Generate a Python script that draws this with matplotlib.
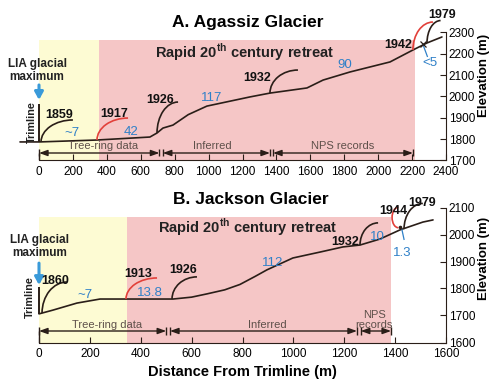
import numpy as np
import matplotlib
matplotlib.use("Agg")
import matplotlib.pyplot as plt
from matplotlib.patches import Arc

plt.rcParams['font.family'] = ['Liberation Sans', 'DejaVu Sans']
plt.rcParams['mathtext.fontset'] = 'custom'
plt.rcParams['mathtext.rm'] = 'Liberation Sans'
plt.rcParams['mathtext.bf'] = 'Liberation Sans:bold'

# ---------------- Data: A. Agassiz Glacier ----------------
a_dist = [-112, 0, 342, 654, 696, 731, 790, 880, 990, 1244, 1362, 1580, 1675, 1834, 2070, 2205, 2288, 2376]
a_elev = [1787, 1787, 1796, 1810, 1829, 1852, 1866, 1915, 1955, 1998, 2016, 2040, 2077, 2115, 2162, 2218, 2251, 2279]
a_years = ['1859', '1917', '1926', '1932', '1942', '1979']
a_mor_x = [12, 342, 696, 1362, 2205, 2288]
a_mor_y = [1787, 1796, 1829, 2016, 2218, 2251]
a_mor_w = [188, 183, 124, 165, 118, 80]
a_mor_h = [103, 103, 145, 108, 131, 105]
a_mor_red = [False, True, False, False, True, False]
a_rates = ['~7', '42', '117', '90', '<5']
a_sources = ['Tree-ring data', 'Inferred', 'NPS records']
a_src_start = [0, 730, 1380]
a_src_end = [710, 1362, 2205]
a_shade = [0, 354, 2217]
a_shade_top = 2265
a_trim_top = 1965

# ---------------- Data: B. Jackson Glacier ----------------
b_dist = [0, 55, 149, 240, 346, 527, 600, 660, 730, 790, 850, 896, 998, 1105, 1195, 1262, 1340, 1419, 1509, 1549]
b_elev = [1706, 1720, 1746, 1761, 1761, 1761, 1768, 1780, 1795, 1815, 1845, 1869, 1913, 1935, 1954, 1961, 1983, 2017, 2046, 2054]
b_years = ['1860', '1913', '1926', '1932', '1944', '1979']
b_mor_x = [12, 342, 523, 1262, 1415, 1435]
b_mor_y = [1709, 1761, 1761, 1961, 2020, 2020]
b_mor_w = [98, 122, 98, 71, 0, 74]
b_mor_h = [115, 78, 82, 82, 0, 95]
b_mor_red = [False, True, False, False, True, False]
b_rates = ['~7', '13.8', '112', '10', '1.3']
b_sources = ['Tree-ring data', 'Inferred', 'NPS\nrecords']
b_src_start = [0, 515, 1265]
b_src_end = [500, 1250, 1384]
b_shade = [0, 345, 1384]
b_shade_top = 2066
b_trim_top = 1806

# ---------------- Layout (label placement) ----------------
a_year_pos = [(118, 1913), (442, 1918), (713, 1984), (1285, 2087), (2117, 2241), (2376, 2382)]
a_rate_pos = [(192, 1827), (542, 1834), (1020, 1993), (1804, 2148), (2305, 2157)]
a_src_lx = [377, 1020, 1793]
b_year_pos = [(63, 1828), (389, 1854), (566, 1869), (1203, 1972), (1392, 2087), (1505, 2117)]
b_rate_pos = [(181, 1776), (436, 1783), (920, 1894), (1329, 1991), (1427, 1931)]
b_src_lx = [267, 896, 1318]

W, H = 492, 381
fig = plt.figure(figsize=(W / 100, H / 100), dpi=100)

def rect(px_left, px_right, py_bottom, py_top):
    return [px_left / W, 1 - py_bottom / H, (px_right - px_left) / W, (py_bottom - py_top) / H]

# top: x 0 at px39, 2400 at px446 ; y 1700 at py160.5, 2300 at py32.5
sx_a = (446 - 39) / 2400
sy_a = (160.5 - 32.5) / 600
ax_a = fig.add_axes(rect(10, 446, 160.5, 160.5 - 720 * sy_a))
ax_a.set_xlim(-(39 - 10) / sx_a, 2400)
ax_a.set_ylim(1700, 2420)

sx_b = (446 - 39) / 1600
sy_b = (342.5 - 207.5) / 500
ax_b = fig.add_axes(rect(10, 446, 342.5, 342.5 - 600 * sy_b))
ax_b.set_xlim(-(39 - 10) / sx_b, 1600)
ax_b.set_ylim(1600, 2200)

YEL = '#fdfbd3'
PINK = '#f5c6c6'
LINE = '#2a1e18'
RED = '#e2403a'
BLUE = '#2f80c8'
SRC = '#5e504a'

def draw_panel(ax, dist, elev, years, mx, my, mw, mh, mred, ypos, rates, rpos,
               sources, s0, s1, slx, shade, shade_top, ymin, ymax_tick, xmax,
               arrow_y, bar_h, src_ly, trim_top):
    ax.set_facecolor('none')
    ax.fill_between([shade[0], shade[1]], ymin, shade_top, color=YEL, lw=0, zorder=0)
    ax.fill_between([shade[1], shade[2]], ymin, shade_top, color=PINK, lw=0, zorder=0)
    ax.plot(dist, elev, color=LINE, lw=1.2, zorder=3, clip_on=False, solid_capstyle='round',
            solid_joinstyle='round')
    for x0, y0, w, h, red in zip(mx, my, mw, mh, mred):
        c = RED if red else LINE
        if w > 0:
            arc = Arc((x0 + w, y0), 2 * w, 2 * h, theta1=90, theta2=180, color=c, lw=1.2, zorder=3)
            ax.add_patch(arc)
    for t, (x, y) in zip(years, ypos):
        ax.text(x, y, t, fontsize=9, fontweight='bold', ha='center', va='center', color='#111111', zorder=4)
    for t, (x, y) in zip(rates, rpos):
        ax.text(x, y, t, fontsize=9.5, ha='center', va='center', color=BLUE, zorder=4)
    for a, b_, lx, lab in zip(s0, s1, slx, sources):
        ax.annotate('', xy=(b_, arrow_y), xytext=(a, arrow_y),
                    arrowprops=dict(arrowstyle='<|-|>,head_length=0.5,head_width=0.18',
                                    color=LINE, lw=1.0, shrinkA=0, shrinkB=0), zorder=3)
        ax.vlines([a, b_], arrow_y - bar_h, arrow_y + bar_h, color=LINE, lw=1.0, zorder=3)
        ax.text(lx, src_ly, lab, fontsize=8, ha='center', va='bottom', color=SRC,
                linespacing=0.95, zorder=4)
    ax.vlines([0], ymin, arrow_y, color=LINE, lw=1.0, zorder=3)
    # trimline bar
    ax.vlines([0], elev[dist.index(0)], trim_top, color=LINE, lw=1.4, zorder=3)
    # axes styling
    for s in ['top', 'left']:
        ax.spines[s].set_visible(False)
    ax.spines['right'].set_bounds(ymin, ymax_tick)
    ax.spines['bottom'].set_bounds(0, xmax)
    ax.spines['right'].set_color(LINE)
    ax.spines['bottom'].set_color(LINE)
    ax.yaxis.tick_right()
    ax.set_yticks(np.arange(ymin, ymax_tick + 1, 100))
    ax.set_xticks(np.arange(0, xmax + 1, 200))
    ax.tick_params(axis='y', direction='in', length=4, pad=2, labelsize=8.5, color=LINE)
    ax.tick_params(axis='x', direction='in', length=4, pad=4, labelsize=8.5, color=LINE)

draw_panel(ax_a, a_dist, a_elev, a_years, a_mor_x, a_mor_y, a_mor_w, a_mor_h, a_mor_red,
           a_year_pos, a_rates, a_rate_pos, a_sources, a_src_start, a_src_end, a_src_lx,
           a_shade, a_shade_top, 1700, 2300, 2400,
           arrow_y=1700 + 7.5 / sy_a, bar_h=3.5 / sy_a, src_ly=1700 + 9 / sy_a, trim_top=a_trim_top)
draw_panel(ax_b, b_dist, b_elev, b_years, b_mor_x, b_mor_y, b_mor_w, b_mor_h, b_mor_red,
           b_year_pos, b_rates, b_rate_pos, b_sources, b_src_start, b_src_end, b_src_lx,
           b_shade, b_shade_top, 1600, 2100, 1600,
           arrow_y=1600 + 11.5 / sy_b, bar_h=3.5 / sy_b, src_ly=1600 + 13 / sy_b, trim_top=b_trim_top)

# special marks: 1944 red moraine (left half arc) and small markers
ax_b.add_patch(Arc((1413, 2063), 50, 76, theta1=90, theta2=270, color=RED, lw=1.2, zorder=3))
ax_b.plot([1427, 1435], [2017, 1982], color=BLUE, lw=0.9, zorder=3)
ax_b.plot([1419], [2028], marker='o', ms=1.6, color=LINE, zorder=4)
ax_a.plot([2264, 2290], [2244, 2188], color=BLUE, lw=0.9, zorder=3)
ax_a.plot([2264], [2248], marker='x', ms=4, mew=0.9, color=LINE, zorder=4)

# LIA arrows
ax_a.annotate('', xy=(0, 1984), xytext=(0, 2054), annotation_clip=False,
              arrowprops=dict(arrowstyle='-|>,head_length=0.45,head_width=0.25',
                              lw=2.2, color='#3a9ad9', shrinkA=0, shrinkB=0))
ax_b.annotate('', xy=(0, 1813), xytext=(0, 1894), annotation_clip=False,
              arrowprops=dict(arrowstyle='-|>,head_length=0.45,head_width=0.25',
                              lw=2.2, color='#3a9ad9', shrinkA=0, shrinkB=0))

def ftext(px, py, s, **kw):
    fig.text(px / W, 1 - py / H, s, **kw)

ftext(248, 23, 'A. Agassiz Glacier', fontsize=12.5, fontweight='bold', ha='center', va='center')
ftext(251, 200, 'B. Jackson Glacier', fontsize=12.5, fontweight='bold', ha='center', va='center')
ftext(245, 52, r'Rapid 20$^{\mathbf{th}}$ century retreat', fontsize=10.5, fontweight='bold', ha='center', va='center', color='#222222')
ftext(248, 227, r'Rapid 20$^{\mathbf{th}}$ century retreat', fontsize=10.5, fontweight='bold', ha='center', va='center', color='#222222')
ftext(37, 70.5, 'LIA glacial\nmaximum', fontsize=8.5, fontweight='bold', ha='center', va='center', linespacing=1.0, color='#222222')
ftext(40, 246.5, 'LIA glacial\nmaximum', fontsize=8.5, fontweight='bold', ha='center', va='center', linespacing=1.0, color='#222222')
ftext(32, 122, 'Trimline', fontsize=7.8, fontweight='bold', rotation=90, ha='center', va='center', color='#222222')
ftext(30, 297, 'Trimline', fontsize=7.8, fontweight='bold', rotation=90, ha='center', va='center', color='#222222')
ftext(484, 75, 'Elevation (m)', fontsize=9.5, fontweight='bold', rotation=90, ha='center', va='center')
ftext(484, 258, 'Elevation (m)', fontsize=9.5, fontweight='bold', rotation=90, ha='center', va='center')
ftext(242, 372, 'Distance From Trimline (m)', fontsize=10.5, fontweight='bold', ha='center', va='center')

fig.savefig('out.png', dpi=100)
